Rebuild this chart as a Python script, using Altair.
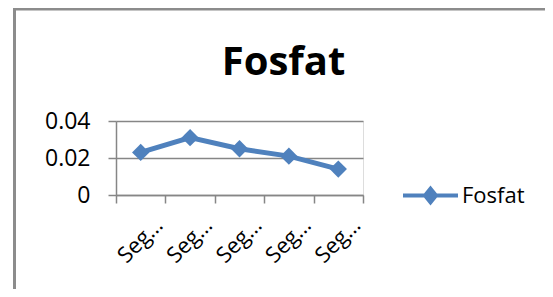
import altair as alt
import pandas as pd

categories = ["Segmen 1", "Segmen 2", "Segmen 3", "Segmen 4", "Segmen 5"]
values = [0.023, 0.031, 0.025, 0.021, 0.014]
series = "Fosfat"
y_ticks = [0, 0.02, 0.04]

df = pd.DataFrame({
    "idx": list(range(1, len(categories) + 1)),
    "cat": categories,
    "value": values,
    "series": [series] * len(categories),
})

BLUE = "#4F81BD"
GRAY = "#868686"
FONT = "Open Sans"

x_vals = [i * 0.5 for i in range(1, 2 * len(categories) + 2)]
label_expr = "''"
for i in range(len(categories), 0, -1):
    label_expr = f"datum.value == {i} ? '{categories[i - 1]}' : ({label_expr})"

x_enc = alt.X(
    "idx:Q",
    scale=alt.Scale(domain=[0.5, len(categories) + 0.5], nice=False, zero=False),
    axis=alt.Axis(
        title=None,
        values=x_vals,
        grid=False,
        domainColor=GRAY,
        domainWidth=1.5,
        tickColor=GRAY,
        tickWidth=1.5,
        tickSize=8,
        tickOpacity={"condition": {"test": "datum.value % 1 === 0", "value": 0}, "value": 1},
        labelExpr=label_expr,
        labelAngle=-45,
        labelFont=FONT,
        labelFontSize=22,
        labelColor="#000000",
        labelLimit=62,
        labelPadding=11,
        labelOffset=11,
        labelFlush=False,
        labelOverlap=False,
    ),
)

y_enc = alt.Y(
    "value:Q",
    scale=alt.Scale(domain=[0, 0.04], nice=False),
    axis=alt.Axis(
        title=None,
        values=y_ticks,
        labelExpr="toString(datum.value)",
        grid=True,
        gridColor=GRAY,
        gridWidth=1.5,
        domainColor=GRAY,
        domainWidth=1.5,
        tickColor=GRAY,
        tickWidth=1.5,
        tickSize=8,
        labelFont=FONT,
        labelFontSize=23,
        labelColor="#000000",
        labelPadding=18,
        labelOverlap=False,
        labelFlush=False,
    ),
)

color_enc = alt.Color(
    "series:N",
    scale=alt.Scale(range=[BLUE]),
    legend=alt.Legend(
        title=None,
        orient="none",
        legendX=285,
        legendY=45,
        symbolType="M-1,0H1M0,-0.25L0.2,0L0,0.25L-0.2,0Z",
        symbolSize=3025,
        symbolStrokeWidth=4,
        symbolFillColor=BLUE,
        symbolStrokeColor=BLUE,
        labelFont=FONT,
        labelFontSize=22,
        labelColor="#000000",
        labelOffset=2,
    ),
)

base = alt.Chart(df)
line = base.mark_line(strokeWidth=5).encode(x=x_enc, y=y_enc, color=color_enc)
points = base.mark_point(shape="diamond", filled=True, size=300, opacity=1).encode(
    x=x_enc, y=y_enc, color=color_enc
)

frame = alt.Chart(alt.Data(values=[{}])).mark_rect(
    fill=None, stroke="#8c8c8c", strokeWidth=3
).encode(
    x=alt.value(-101.5), y=alt.value(-112), x2=alt.value(600), y2=alt.value(400)
)

chart = alt.layer(frame, line, points).properties(
    width=247,
    height=74,
    title=alt.TitleParams(
        "Fosfat",
        font=FONT,
        fontSize=40,
        fontWeight="bold",
        color="#000000",
        anchor="middle",
        frame="group",
        baseline="alphabetic",
        dx=44,
        dy=111,
    ),
    autosize=alt.AutoSizeParams(type="none"),
    padding={"left": 108, "top": 113, "right": 182, "bottom": 94},
).configure_view(strokeWidth=0, stroke="transparent").configure(background="#ffffff")

chart.save("out.html", embed_options={"renderer": "svg", "actions": False})
